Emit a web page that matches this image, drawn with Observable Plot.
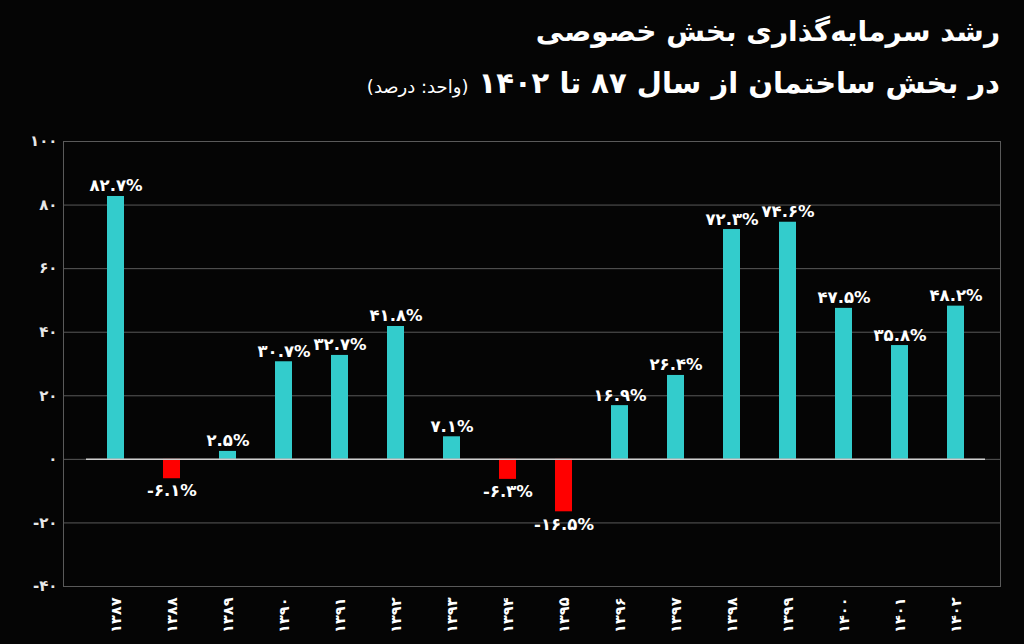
<!DOCTYPE html>
<html>
<head>
<meta charset="utf-8">
<script src="https://cdn.jsdelivr.net/npm/d3@7"></script>
<script src="https://cdn.jsdelivr.net/npm/@observablehq/plot@0.6"></script>
<style>
  html, body { margin: 0; padding: 0; background: #050505; width: 1024px; height: 644px; overflow: hidden; }
  #title { position: relative; height: 110px; width: 1024px; color: #fff; font-family: "DejaVu Sans", sans-serif; direction: rtl; }
  #t1 { position: absolute; right: 24px; top: 15px; font-size: 28px; font-weight: bold; white-space: nowrap; }
  #t2 { position: absolute; right: 24px; top: 66px; font-size: 29px; font-weight: bold; white-space: nowrap; }
  #t2 span { font-size: 18px; font-weight: normal; }
  #chart svg { display: block; }
</style>
</head>
<body>
<div id="title">
  <div id="t1">رشد سرمایه‌گذاری بخش خصوصی</div>
  <div id="t2">در بخش ساختمان از سال ۸۷ تا ۱۴۰۲ <span>(واحد: درصد)</span></div>
</div>
<div id="chart"></div>
<script>
const years = ["1387","1388","1389","1390","1391","1392","1393","1394","1395","1396","1397","1398","1399","1400","1401","1402"];
const growth = [82.7, -6.1, 2.5, 30.7, 32.7, 41.8, 7.1, -6.3, -16.5, 16.9, 26.4, 72.3, 74.6, 47.5, 35.8, 48.2];
const yTicks = [-40, -20, 0, 20, 40, 60, 80, 100];

const fa = s => String(s).replace(/[0-9]/g, d => "۰۱۲۳۴۵۶۷۸۹"[d]);
const data = years.map((year, i) => ({year, value: growth[i]}));
const pos = data.filter(d => d.value >= 0);
const neg = data.filter(d => d.value < 0);

const chart = Plot.plot({
  width: 1024,
  height: 534,
  marginLeft: 63,
  marginRight: 24,
  marginTop: 31,
  marginBottom: 58,
  style: { background: "transparent", color: "#fff", fontFamily: "DejaVu Sans, sans-serif" },
  x: { domain: years, paddingInner: 0.7, paddingOuter: 0.35, insetLeft: 23, insetRight: 15, label: null },
  y: { domain: [-40, 100], ticks: yTicks, label: null },
  marks: [
    Plot.gridY(yTicks, { stroke: "#5a5a5a", strokeOpacity: 1, strokeWidth: 1 }),
    Plot.frame({ stroke: "#5a5a5a" }),
    Plot.barY(data, { x: "year", y: "value", fill: d => d.value >= 0 ? "#33cccc" : "#ff0000" }),
    Plot.ruleY([0], { stroke: "#cfcfcf", strokeWidth: 1.5, insetLeft: 23, insetRight: 15 }),
    Plot.text(pos, { x: "year", y: "value", text: d => fa(d.value.toFixed(1)) + "%", lineAnchor: "bottom", dy: -5, fill: "#fff", fontSize: 16.5, fontWeight: "bold" }),
    Plot.text(neg, { x: "year", y: "value", text: d => fa(d.value.toFixed(1)) + "%", lineAnchor: "top", dy: 6, fill: "#fff", fontSize: 16.5, fontWeight: "bold" }),
    Plot.axisY(yTicks, { tickSize: 0, tickPadding: 6, tickFormat: fa, fontSize: 15, fontWeight: "bold", fill: "#e8e8e8" }),
    Plot.axisX({ tickSize: 0, tickPadding: 11, tickRotate: -90, tickFormat: fa, fontSize: 14.5, fontWeight: "bold", fill: "#fff" })
  ]
});
document.getElementById("chart").appendChild(chart);
</script>
</body>
</html>
